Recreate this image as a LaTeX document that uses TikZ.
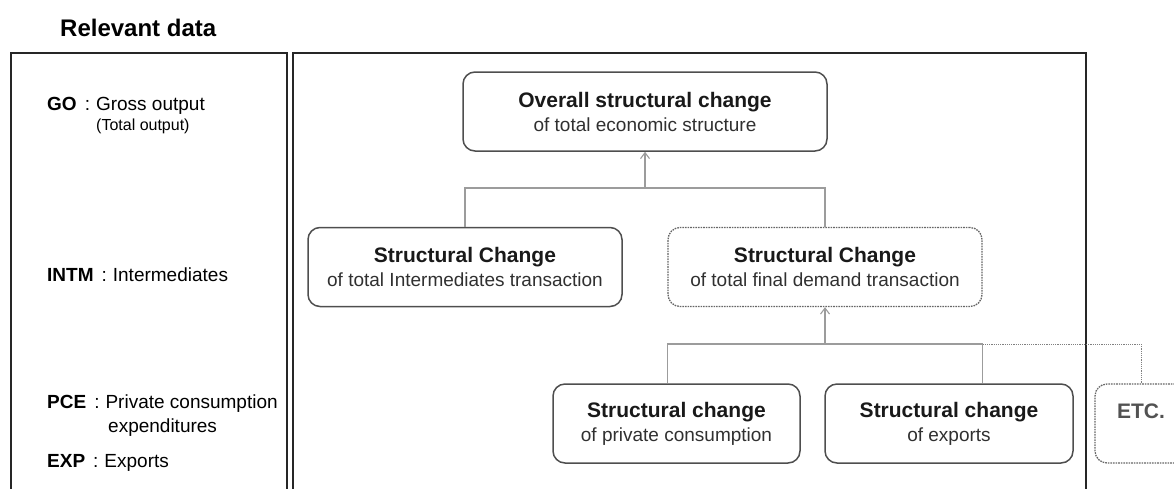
\documentclass[tikz,border=0pt]{standalone}
\usepackage{fontspec}
\setmainfont{Liberation Sans}
\usetikzlibrary{arrows.meta}
\definecolor{boxline}{HTML}{4E4E4E}
\definecolor{linkgray}{HTML}{9C9C9C}
\definecolor{subgray}{HTML}{303030}
\tikzset{
  frame/.style={draw=black!85,line width=2pt},
  changebox/.style={draw=boxline,line width=1.5pt,rounded corners=12pt,align=center,
    inner sep=0pt,minimum height=79pt,text=subgray,font=\fontsize{19}{24}\selectfont},
  dotbox/.style={changebox,draw=black!60,line width=1.3pt,dash pattern=on 1.6pt off 1pt},
  link/.style={draw=linkgray,line width=1.1pt},
  linkdot/.style={draw=black!50,line width=0.9pt,dash pattern=on 1.2pt off 1pt},
  uparrow/.style={link,-{Straight Barb[length=6pt,width=9pt]}},
  keytext/.style={anchor=base west,inner sep=0pt,font=\fontsize{19}{23}\selectfont}
}
\newcommand{\boxhead}[1]{{\fontsize{21}{24}\selectfont\bfseries\color{black!90}#1}}
\newcommand{\keyname}[1]{\textbf{#1}\hspace{8pt}:\hspace{6pt}}
\begin{document}
\begin{tikzpicture}[x=1pt,y=-1pt]
    \clip (0,0) rectangle (1174,488);
    %% heading
    \node[anchor=base west,inner sep=0pt,font=\fontsize{24}{27}\selectfont\bfseries] (heading) at (60,36) {Relevant data};
    %% frames
    \draw[frame] (11,53) rectangle (287,500);
    \draw[frame] (293,53) rectangle (1086,500);
    %% relevant data
    \node[keytext] (go) at (47,110) {\keyname{GO}Gross output};
    \node[keytext,font=\fontsize{16}{19}\selectfont] (gonote) at (96,130) {(Total output)};
    \node[keytext] (intm) at (47,281) {\keyname{INTM}Intermediates};
    \node[keytext] (pce) at (47,408) {\keyname{PCE}Private consumption};
    \node[keytext] (pcenote) at (108,432) {expenditures};
    \node[keytext] (exp) at (47,467) {\keyname{EXP}Exports};
    %% top level
    \node[changebox,minimum width=364pt] (overall) at (645,111.5) {\boxhead{Overall structural change}\\of total economic structure};
    %% second level
    \node[changebox,minimum width=314pt] (intmchange) at (465,267) {\boxhead{Structural Change}\\of total Intermediates transaction};
    \node[dotbox,minimum width=314pt] (fdchange) at (825,267) {\boxhead{Structural Change}\\of total final demand transaction};
    %% third level
    \node[changebox,minimum width=247pt] (pcechange) at (676.5,423.5) {\boxhead{Structural change}\\of private consumption};
    \node[changebox,minimum width=248pt] (expchange) at (949,423.5) {\boxhead{Structural change}\\of exports};
    \node[dotbox,minimum width=92pt,text=black!68] (etcchange) at (1141,423.5) {\fontsize{21}{24}\selectfont\bfseries ETC.\\\mbox{}};
    %% connectors
    \coordinate (topjoin) at (645,188);
    \draw[link] (intmchange.north) |- (topjoin) -| (fdchange.north);
    \draw[uparrow] (topjoin) -- (overall.south);
    \coordinate (lowjoin) at (825,344);
    \coordinate (expjoin) at (fdchange.east |- lowjoin);
    \draw[link] (pcechange.north -| fdchange.west) |- (lowjoin) -| (expchange.north -| fdchange.east);
    \draw[linkdot] (expjoin) -| (etcchange.north);
    \draw[uparrow] (lowjoin) -- (fdchange.south);
\end{tikzpicture}
\end{document}
